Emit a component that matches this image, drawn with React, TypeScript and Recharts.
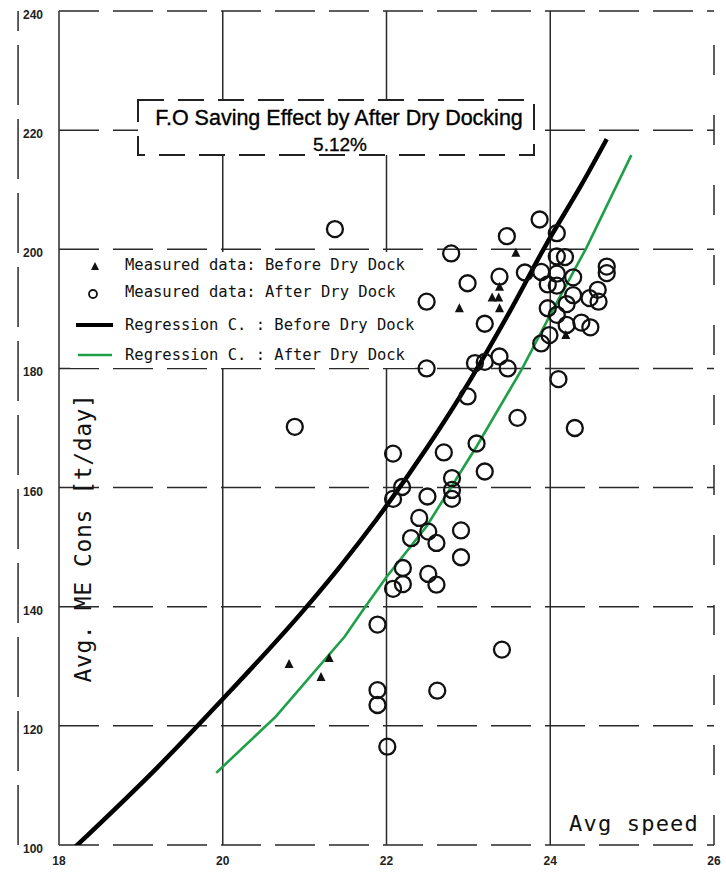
import React from 'react';
import { ComposedChart, Line, Scatter, XAxis, YAxis, CartesianGrid, ReferenceLine } from 'recharts';

// ---- data ----
const xTicks = [18, 20, 22, 24, 26];
const yTicks = [100, 120, 140, 160, 180, 200, 220, 240];

const beforeSpeed = [23.58, 23.38, 23.29, 23.37, 23.38, 22.89, 24.19, 20.81, 21.30, 21.20];
const beforeCons = [199.4, 193.7, 191.9, 191.9, 190.1, 190.1, 185.6, 130.4, 131.4, 128.2];

const afterSpeed = [
  23.87, 24.08, 23.47, 22.79, 24.08, 24.18, 24.69, 24.69, 23.69, 23.89,
  24.08, 23.38, 22.99, 24.28, 23.97, 24.08, 24.28, 24.58, 24.59, 24.48,
  22.49, 23.97, 24.20, 24.08, 24.38, 24.49, 24.20, 23.99, 23.89, 23.20,
  23.38, 23.48, 23.20, 23.08, 22.49, 24.10, 22.99, 23.60, 24.30, 20.88,
  21.37, 22.08, 23.10, 22.70, 23.20, 22.80, 22.80, 22.80, 22.19, 22.08,
  22.50, 22.40, 22.51, 22.30, 22.61, 22.91, 22.91, 22.20, 22.51, 22.61,
  22.20, 22.08, 21.89, 23.41, 21.89, 21.89, 22.62, 22.01,
];
const afterCons = [
  205.0, 202.7, 202.2, 199.3, 198.8, 198.7, 197.1, 196.0, 196.1, 196.2,
  195.9, 195.4, 194.3, 195.3, 194.1, 193.9, 192.3, 193.2, 191.2, 191.8,
  191.2, 190.1, 190.8, 189.0, 187.7, 186.9, 187.3, 185.6, 184.2, 187.5,
  182.0, 180.0, 181.1, 180.9, 180.0, 178.2, 175.3, 171.7, 170.0, 170.2,
  203.4, 165.7, 167.4, 165.9, 162.7, 161.6, 159.6, 158.1, 160.1, 158.1,
  158.5, 154.9, 152.6, 151.5, 150.7, 152.8, 148.3, 146.5, 145.5, 143.7,
  143.8, 143.0, 137.0, 132.8, 126.0, 123.5, 125.9, 116.5,
];

const regBeforeSpeed = [18.2, 19.2, 20.0, 21.0, 21.43, 21.875, 22.5, 23.02, 23.5, 23.95, 24.38, 24.69];
const regBeforeCons = [99.7, 113.0, 124.5, 139.6, 146.7, 154.6, 166.8, 178.0, 189.4, 200.8, 210.8, 218.5];

const regAfterSpeed = [19.92, 20.65, 21.49, 21.73, 22.0, 22.49, 23.1, 23.65, 24.03, 24.44, 24.99];
const regAfterCons = [112.1, 121.6, 135.0, 139.8, 145.0, 153.5, 166.9, 179.8, 189.8, 200.2, 215.8];

const titleText = 'F.O Saving Effect by After Dry Docking';
const savingText = '5.12%';
const yLabel = 'Avg. ME Cons [t/day]';
const xLabel = 'Avg speed';
const legendLabels = [
  'Measured data: Before Dry Dock',
  'Measured data: After Dry Dock',
  'Regression C. : Before Dry Dock',
  'Regression C. : After Dry Dock',
];

const GREEN = '#1f9f48';

const zip = (xs: number[], ys: number[]) => xs.map((x, i) => ({ x, y: ys[i] }));
const beforeData = zip(beforeSpeed, beforeCons);
const afterData = zip(afterSpeed, afterCons);
const regBefore = zip(regBeforeSpeed, regBeforeCons);
const regAfter = zip(regAfterSpeed, regAfterCons);

const Circ = (p: any) => (
  <circle cx={p.cx} cy={p.cy} r={8} fill="none" stroke="#111" strokeWidth={2.3} />
);
const Tri = (p: any) => (
  <polygon
    points={`${p.cx},${p.cy - 5} ${p.cx + 4.5},${p.cy + 4} ${p.cx - 4.5},${p.cy + 4}`}
    fill="#111"
  />
);

const tickFont = '"Liberation Sans Narrow", "Liberation Sans", Arial, sans-serif';

const YTick = (p: any) => (
  <text x={p.x} y={p.y + 4} textAnchor="end" dominantBaseline="central"
    fontFamily={tickFont} fontWeight="bold" fontSize={12} fill="#222">
    {p.payload.value}
  </text>
);
const XTick = (p: any) => (
  <text x={p.x} y={p.y + 8} textAnchor="middle" dominantBaseline="central"
    fontFamily={tickFont} fontWeight="bold" fontSize={12} fill="#222">
    {p.payload.value}
  </text>
);

const mono = '"DejaVu Sans Mono", "Liberation Mono", monospace';

export default function App() {
  return (
    <div style={{ position: 'absolute', left: 0, top: 0, width: 726, height: 879, background: '#fff', overflow: 'hidden' }}>
      <ComposedChart width={726} height={879} margin={{ top: 11, right: 12, bottom: 4, left: 0 }}>
        <CartesianGrid vertical={false} stroke="#2a2a2a" strokeDasharray="40 14" strokeWidth={1.5} />
        <XAxis type="number" dataKey="x" domain={[18, 26]} ticks={xTicks} axisLine={false}
          tickLine={false} height={30} tick={<XTick />} allowDataOverflow />
        <YAxis type="number" dataKey="y" domain={[100, 240]} ticks={yTicks} width={59}
          axisLine={{ stroke: '#2a2a2a', strokeWidth: 1.5 }} tickLine={false} tickMargin={10}
          tick={<YTick />} allowDataOverflow />
        <ReferenceLine x={20} stroke="#2a2a2a" strokeWidth={1.5} />
        <ReferenceLine x={22} stroke="#2a2a2a" strokeWidth={1.5} />
        <ReferenceLine x={24} stroke="#2a2a2a" strokeWidth={1.5} />
        <ReferenceLine x={26} stroke="#2a2a2a" strokeWidth={1.5} strokeDasharray="30 40" />
        <ReferenceLine x={17.5} stroke="#2a2a2a" strokeWidth={1.5} strokeDasharray="60 14" ifOverflow="visible" />
        <Line data={regBefore} dataKey="y" type="monotone" stroke="#000" strokeWidth={4.5}
          dot={false} activeDot={false} isAnimationActive={false} />
        <Scatter data={afterData} shape={Circ} isAnimationActive={false} />
        <Scatter data={beforeData} shape={Tri} isAnimationActive={false} />
        <Line data={regAfter} dataKey="y" type="linear" stroke={GREEN} strokeWidth={2.6}
          dot={false} activeDot={false} isAnimationActive={false} />
      </ComposedChart>

      {/* title box */}
      <svg width={400} height={60} style={{ position: 'absolute', left: 136, top: 98 }}>
        <rect x={2} y={2} width={396} height={55} fill="#fff" stroke="#222" strokeWidth={2}
          strokeDasharray="26 14" />
        <text x={203} y={20} textAnchor="middle" dominantBaseline="central"
          fontFamily='"Liberation Sans", Arial, sans-serif' fontSize={21.5} fill="#000"
          stroke="#000" strokeWidth={0.35}>{titleText}</text>
        <text x={204} y={46} textAnchor="middle" dominantBaseline="central"
          fontFamily='"Liberation Sans", Arial, sans-serif' fontSize={19} fill="#000"
          stroke="#000" strokeWidth={0.3}>{savingText}</text>
      </svg>

      {/* legend */}
      <div style={{
        position: 'absolute', left: 70, top: 252, width: 345, height: 116, background: '#fff',
        fontFamily: mono, fontSize: 15.5, color: '#111',
      }}>
        {legendLabels.map((t, i) => (
          <div key={t} style={{ position: 'absolute', left: 0, top: [3, 30, 63, 93][i], height: 24, width: 345 }}>
            <svg width={50} height={24} style={{ position: 'absolute', left: 0, top: 0 }}>
              {i === 0 && <polygon points="25,7 29,15 21,15" fill="#111" />}
              {i === 1 && <circle cx={23} cy={12} r={4} fill="none" stroke="#111" strokeWidth={1.8} />}
              {i === 2 && <line x1={6} x2={43} y1={10} y2={10} stroke="#000" strokeWidth={4} />}
              {i === 3 && <line x1={8} x2={42} y1={10} y2={10} stroke={GREEN} strokeWidth={2.5} />}
            </svg>
            <span style={{ position: 'absolute', left: 55, top: 0, lineHeight: '20px', whiteSpace: 'pre' }}>{t}</span>
          </div>
        ))}
      </div>

      {/* y axis title */}
      <div style={{
        position: 'absolute', left: 83, top: 538, transform: 'translate(-50%, -50%) rotate(-90deg)',
        fontFamily: mono, fontSize: 23, letterSpacing: 0.6, whiteSpace: 'pre', color: '#111',
      }}>{yLabel}</div>

      {/* x axis title */}
      <div style={{
        position: 'absolute', left: 569, top: 811, background: '#fff',
        fontFamily: mono, fontSize: 22, letterSpacing: 1.2, whiteSpace: 'pre', color: '#111',
      }}>{xLabel}</div>
    </div>
  );
}
